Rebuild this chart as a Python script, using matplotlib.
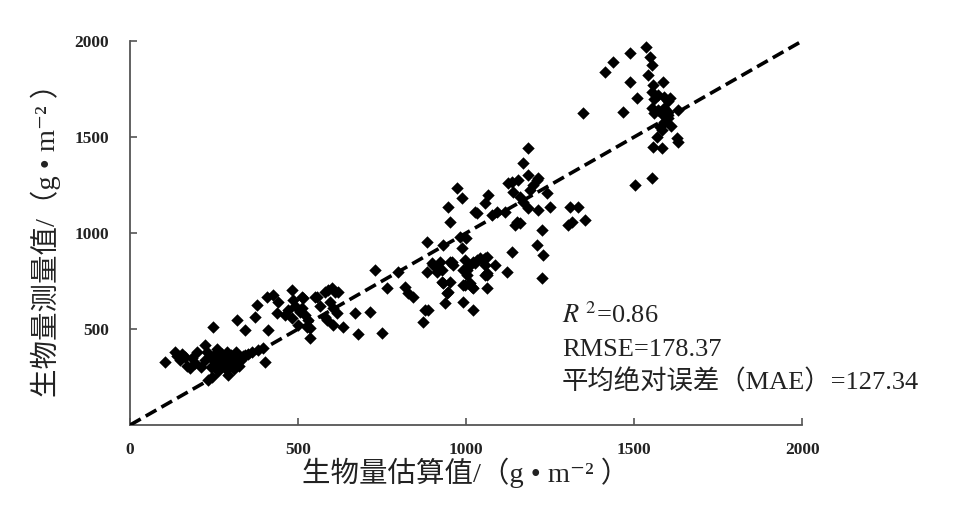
import numpy as np
import matplotlib
matplotlib.use("Agg")
import matplotlib.pyplot as plt

plt.rcParams['font.family'] = ['Liberation Serif', 'Noto Sans CJK SC', 'DejaVu Sans']
plt.rcParams['mathtext.fontset'] = 'stix'

est_low = [104, 134, 140, 150, 155, 165, 170, 179, 184, 193, 200, 210, 223, 223, 229, 232,
           238, 240, 244, 247, 250, 255, 260, 262, 268, 272, 275, 280, 283, 286, 290, 293,
           298, 300, 305, 308, 310, 313, 316, 318, 321, 325, 330, 335, 342, 342, 350, 363,
           372, 378, 381, 395, 402, 408, 411, 426, 437, 440, 258, 292]
mea_low = [328, 380, 360, 340, 372, 354, 310, 297, 350, 323, 380, 300, 417, 340, 380, 234,
           354, 300, 250, 510, 365, 330, 395, 280, 350, 300, 372, 320, 354, 290, 380, 340,
           310, 365, 330, 290, 350, 320, 380, 547, 349, 310, 340, 360, 365, 495, 370, 380,
           563, 625, 391, 400, 328, 667, 495, 677, 583, 641, 310, 260]

est_mid1 = [461, 470, 482, 482, 485, 490, 500, 505, 512, 515, 512, 521, 527, 530, 536, 536,
            551, 557, 565, 580, 580, 586, 589, 595, 601, 604, 604, 610, 616, 619, 634, 670,
            678]
mea_mid1 = [573, 600, 557, 703, 651, 620, 521, 590, 667, 661, 609, 573, 510, 547, 453, 505,
            667, 667, 620, 693, 563, 547, 703, 641, 713, 609, 521, 693, 583, 693, 510, 583,
            475]

est_mid2 = [714, 729, 750, 765, 798, 818, 827, 842, 872, 878, 884, 887, 899, 902, 914, 917,
            923, 929, 932, 929, 938, 943, 946, 952, 952, 958, 961, 991, 991, 991, 997, 997,
            1003, 1003, 1006, 1012, 1018, 1021, 1021, 1021, 1027, 1033, 1042, 1051, 1057, 1057,
            1057, 1062, 1062, 1062, 1062, 1086, 1122, 1226, 1229, 1211, 1137, 884, 932, 982,
            1000, 988]
mea_mid2 = [589, 807, 479, 713, 797, 719, 688, 667, 536, 599, 797, 599, 844, 833, 797, 823,
            849, 807, 740, 745, 635, 688, 693, 849, 745, 849, 833, 807, 729, 641, 859, 729,
            807, 781, 823, 740, 719, 849, 713, 599, 843, 859, 870, 859, 833, 870,
            781, 875, 792, 781, 713, 833, 797, 766, 885, 938, 901, 953, 938, 979,
            975, 922]

est_up = [946, 952, 973, 988, 1027, 1033, 1057, 1066, 1077, 1092, 1116, 1125, 1137, 1140,
          1146, 1152, 1155, 1161, 1161, 1170, 1170, 1185, 1185, 1190, 1185, 1211, 1214, 1214,
          1226, 1241, 1250, 1304, 1315, 1310, 1333, 1354, 1200]
mea_up = [1135, 1057, 1234, 1182, 1109, 1104, 1156, 1198, 1094, 1110, 1109, 1260, 1266, 1214,
          1042, 1057, 1276, 1188, 1052, 1161, 1365, 1443, 1302, 1224, 1130, 1276, 1286, 1120,
          1016, 1208, 1135, 1042, 1057, 1135, 1135, 1068, 1250]

est_top = [1348, 1414, 1438, 1467, 1488, 1488, 1503, 1509, 1536, 1542, 1548, 1554, 1554, 1557,
           1554, 1560, 1570, 1586, 1590, 1600, 1607, 1554, 1560, 1570, 1583, 1590, 1600, 1631,
           1577, 1590, 1568, 1583, 1628, 1631, 1557, 1583, 1600, 1610]
mea_top = [1625, 1839, 1891, 1630, 1937, 1786, 1250, 1703, 1969, 1823, 1917, 1875, 1286, 1771,
           1734, 1700, 1720, 1786, 1710, 1690, 1703, 1651, 1625, 1640, 1620, 1650, 1630, 1640,
           1552, 1580, 1500, 1536, 1495, 1474, 1448, 1443, 1600, 1560]

x = np.array(est_low + est_mid1 + est_mid2 + est_up + est_top)
y = np.array(mea_low + mea_mid1 + mea_mid2 + mea_up + mea_top)

ticks = [0, 500, 1000, 1500, 2000]

fig = plt.figure(figsize=(9.66, 5.19), dpi=100)
ax = fig.add_axes([0.1346, 0.181, 0.6957, 0.7399])

ax.scatter(x, y, marker='D', s=40, color='black', linewidths=0, zorder=3)
ax.plot([0, 2000], [0, 2000], color='black', lw=2.6, linestyle=(0, (3.4, 1.6)), zorder=4)

ax.set_xlim(0, 2000)
ax.set_ylim(0, 2000)
ax.set_xticks(ticks)
ax.set_yticks(ticks[1:])
ax.spines['top'].set_visible(False)
ax.spines['right'].set_visible(False)
for s in ['left', 'bottom']:
    ax.spines[s].set_color('#555555')
    ax.spines[s].set_linewidth(1.3)
ax.tick_params(direction='in', length=5, width=1.2, color='#555555')
ax.tick_params(axis='x', pad=12)
ax.tick_params(axis='y', pad=15)
for lab in ax.get_xticklabels() + ax.get_yticklabels():
    lab.set_fontsize(12.5)
    lab.set_fontweight('bold')
    lab.set_color('#222222')

ax.set_xlabel('生物量估算值/（g • m⁻² ）', fontsize=20.5, labelpad=0, color='#222222')
ax.set_ylabel('生物量测量值/（g • m⁻² ）', fontsize=20.5, labelpad=10, color='#222222')

ax.text(1285, 573, r'$R^{\ 2}$=0.86', fontsize=19, va='center', color='#222222')
ax.text(1285, 391, 'RMSE=178.37', fontsize=19, va='center', color='#222222')
ax.text(1285, 225, '平均绝对误差（MAE）=127.34', fontsize=19, va='center',
        clip_on=False, color='#222222')

fig.savefig('out.png', dpi=100)
